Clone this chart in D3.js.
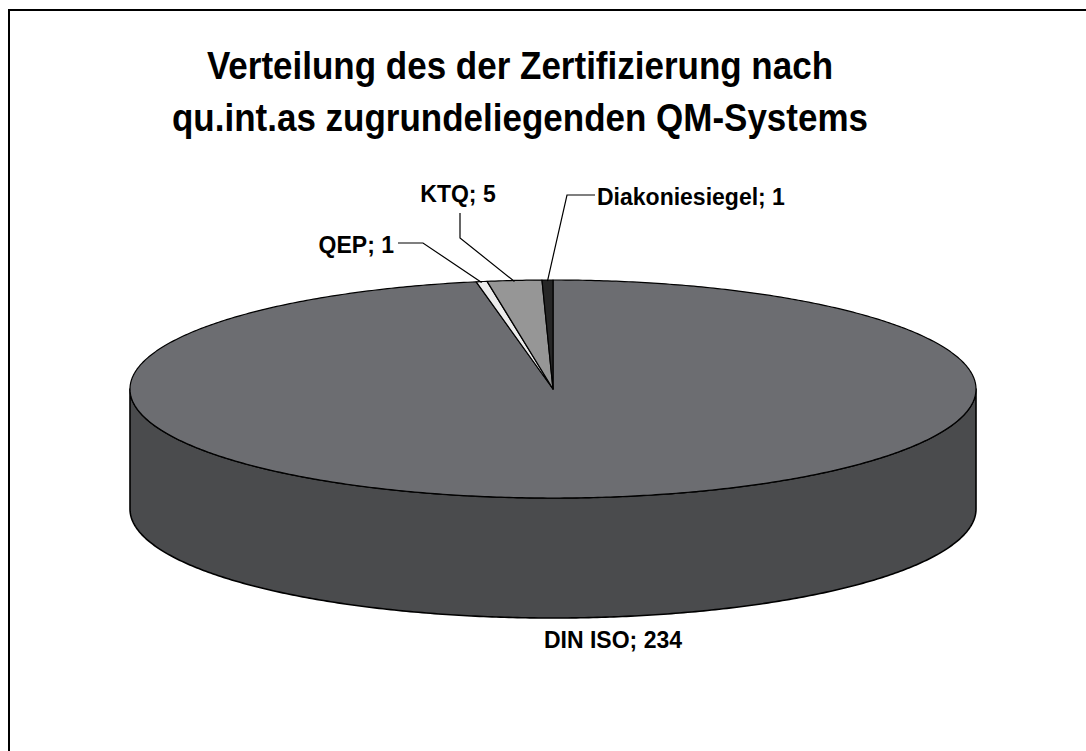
<!DOCTYPE html>
<html lang="de">
<head>
<meta charset="UTF-8">
<title>Verteilung QM-Systeme</title>
<script src="https://cdn.jsdelivr.net/npm/d3@7/dist/d3.min.js"></script>
<style>
  body { margin: 0; background: #fff; }
  #chart text { font-family: "Liberation Sans", Arial, sans-serif; font-weight: bold; fill: #000; }
</style>
</head>
<body>
<div id="chart"></div>
<script>
// data (clockwise from 12 o'clock, as in the original)
var categories = ["DIN ISO", "QEP", "KTQ", "Diakoniesiegel"];
var counts = [234, 1, 5, 1];
var topColors = ["#6c6d71", "#ececec", "#969696", "#262626"];
var sideColors = ["#4a4b4d", "#bdbdbd", "#6e6e6e", "#151515"];
var titleLines = ["Verteilung des der Zertifizierung nach", "qu.int.as zugrundeliegenden QM-Systems"];

// label placement (text anchor point + leader elbow), not data
var labelPos = [
  { x: 613, y: 648, anchor: "middle", elbow: null, line: false },
  { x: 394, y: 253, anchor: "end", elbow: [[398, 243], [423, 243]], line: true },
  { x: 458, y: 202, anchor: "middle", elbow: [[460, 213], [460, 238]], line: true },
  { x: 597, y: 205, anchor: "start", elbow: [[595, 195], [567, 195]], line: true }
];

var W = 1086, H = 751;
var cx = 553, cy = 389, rx = 423, ry = 109, depth = 120;

var svg = d3.select("#chart").append("svg").attr("width", W).attr("height", H);

// outer frame (right and bottom edges lie outside the picture)
svg.append("rect")
  .attr("x", 9).attr("y", 10).attr("width", 1200).attr("height", 900)
  .attr("fill", "none").attr("stroke", "#000").attr("stroke-width", 2);

// title, slightly stretched vertically like the original
svg.selectAll(".title")
  .data(titleLines)
  .enter().append("text")
  .attr("class", "title")
  .attr("transform", function(d, i) { return "translate(520," + (79 + i * 52) + ") scale(1,1.1)"; })
  .attr("text-anchor", "middle")
  .style("font-size", "35px")
  .text(function(d) { return d; });

var pie = d3.pie().sort(null).value(function(d) { return d; });
var arcs = pie(counts);

function px(a) { return cx + rx * Math.sin(a); }
function py(a, dz) { return cy - ry * Math.cos(a) + (dz || 0); }

function arcPoints(a0, a1, dz) {
  var n = Math.max(2, Math.ceil(Math.abs(a1 - a0) / 0.01));
  return d3.range(n + 1).map(function(i) {
    var a = a0 + (a1 - a0) * i / n;
    return [px(a), py(a, dz)];
  });
}

var line = d3.line();

var g = svg.append("g");

// side walls: only the front half (pi/2 .. 3pi/2) is visible
arcs.forEach(function(d, i) {
  var a0 = Math.max(d.startAngle, Math.PI / 2);
  var a1 = Math.min(d.endAngle, 3 * Math.PI / 2);
  if (a1 <= a0) return;
  var pts = arcPoints(a0, a1, 0).concat(arcPoints(a1, a0, depth));
  g.append("path")
    .attr("d", line(pts) + "Z")
    .attr("fill", sideColors[i])
    .attr("stroke", "#000")
    .attr("stroke-width", 1.6)
    .attr("stroke-linejoin", "round");
});

// top faces
g.selectAll(".slice")
  .data(arcs)
  .enter().append("path")
  .attr("class", "slice")
  .attr("d", function(d) {
    return line([[cx, cy]].concat(arcPoints(d.startAngle, d.endAngle, 0))) + "Z";
  })
  .attr("fill", function(d, i) { return topColors[i]; })
  .attr("stroke", "#000")
  .attr("stroke-width", 1.2)
  .attr("stroke-linejoin", "round");

// leader lines
arcs.forEach(function(d, i) {
  var lp = labelPos[i];
  if (!lp.line) return;
  var mid = (d.startAngle + d.endAngle) / 2;
  var pts = lp.elbow.concat([[px(mid), py(mid) + 1]]);
  svg.append("path")
    .attr("d", line(pts))
    .attr("fill", "none")
    .attr("stroke", "#000")
    .attr("stroke-width", 1.2);
});

// labels
svg.selectAll(".label")
  .data(arcs)
  .enter().append("text")
  .attr("class", "label")
  .attr("x", function(d, i) { return labelPos[i].x; })
  .attr("y", function(d, i) { return labelPos[i].y; })
  .attr("text-anchor", function(d, i) { return labelPos[i].anchor; })
  .style("font-size", "23px")
  .text(function(d, i) { return categories[i] + "; " + counts[i]; });
</script>
</body>
</html>
